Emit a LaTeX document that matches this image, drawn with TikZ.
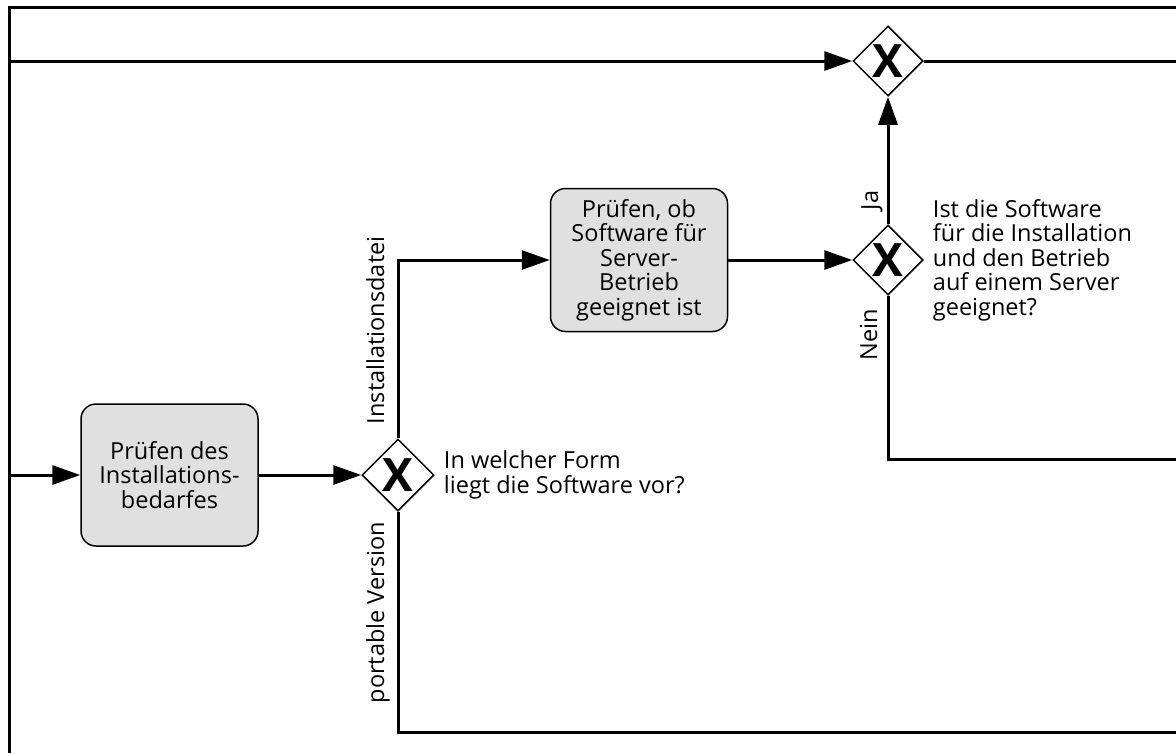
\documentclass[tikz,border=0pt]{standalone}
\usepackage{fontspec}
\setmainfont{Open Sans}
\usetikzlibrary{arrows.meta,shapes.geometric,positioning}
\definecolor{taskgray}{RGB}{224,224,224}

\begin{document}
\begin{tikzpicture}[x=1pt,y=-1pt,
    flow/.style={line width=3pt,-{Triangle[length=28pt,width=19pt]}},
    seq/.style={line width=3pt},
    task/.style={draw,line width=1.5pt,rounded corners=15pt,fill=taskgray,
      minimum width=177pt,minimum height=142pt,align=center,inner sep=0pt,
      font=\fontsize{23.5}{24.5}\selectfont},
    gate/.style={draw,diamond,fill=white,line width=1.5pt,minimum width=70pt,
      minimum height=70pt,inner sep=0pt,font=\fontsize{46}{46}\selectfont\bfseries},
    lbl/.style={font=\fontsize{23.5}{24.5}\selectfont,inner sep=0pt,align=left}]
    \useasboundingbox (0,0) rectangle (1176,753);

    \draw[seq] (1176,7) -- (9,7) -- (9,753); % Pool frame

    % Nodes
    \node[task] (task1) at (169.5,475) {Prüfen des\\Installations-\\bedarfes};
    \node[task,minimum height=143pt] (task2) at (639,260) {Prüfen, ob\\Software für\\Server-\\Betrieb\\geeignet ist};
    \node[gate,minimum width=72pt,minimum height=72pt] (g3) at (398,475) {X};
    \node[gate] (g2) at (888,260) {X};
    \node[gate] (g1) at (888,61) {X};

    \coordinate (in1) at (9,61);
    \coordinate (in2) at (9,475);
    \coordinate (out1) at (1176,61);
    \coordinate (out2) at (1176,459);
    \coordinate (out3) at (1176,732);

    % Sequence flows
    \draw[flow] (in1) -- (g1.west);
    \draw[seq] (g1.east) -- (out1);
    \draw[flow] (in2) -- (task1.west);
    \draw[flow] (task1.east) -- (g3.west);
    \draw[flow] (g3.north) |- (task2.west);
    \draw[seq] (g3.south) |- (out3);
    \draw[flow] (task2.east) -- (g2.west);
    \draw[flow] (g2.north) -- (g1.south);
    \draw[seq] (g2.south) |- (out2);

    % Labels
    \node[lbl,rotate=90,anchor=base west] (lblinst) at ([xshift=-14pt,yshift=14pt]g3.north) {Installationsdatei};
    \node[lbl,rotate=90,anchor=base east] (lblport) at ([xshift=-14pt,yshift=-10pt]g3.south) {portable Version};
    \node[lbl,rotate=90,anchor=base west] (lblja) at ([xshift=-10pt,yshift=14pt]g2.north) {Ja};
    \node[lbl,rotate=90,anchor=base east] (lblnein) at ([xshift=-11pt,yshift=-13pt]g2.south) {Nein};
    \node[lbl,anchor=west] (q2) at ([xshift=9pt]g2.east) {Ist die Software\\für die Installation\\und den Betrieb\\auf einem Server\\geeignet?};
    \node[lbl,anchor=west] (q3) at ([xshift=9pt]g3.east) {In welcher Form\\liegt die Software vor?};
\end{tikzpicture}
\end{document}
